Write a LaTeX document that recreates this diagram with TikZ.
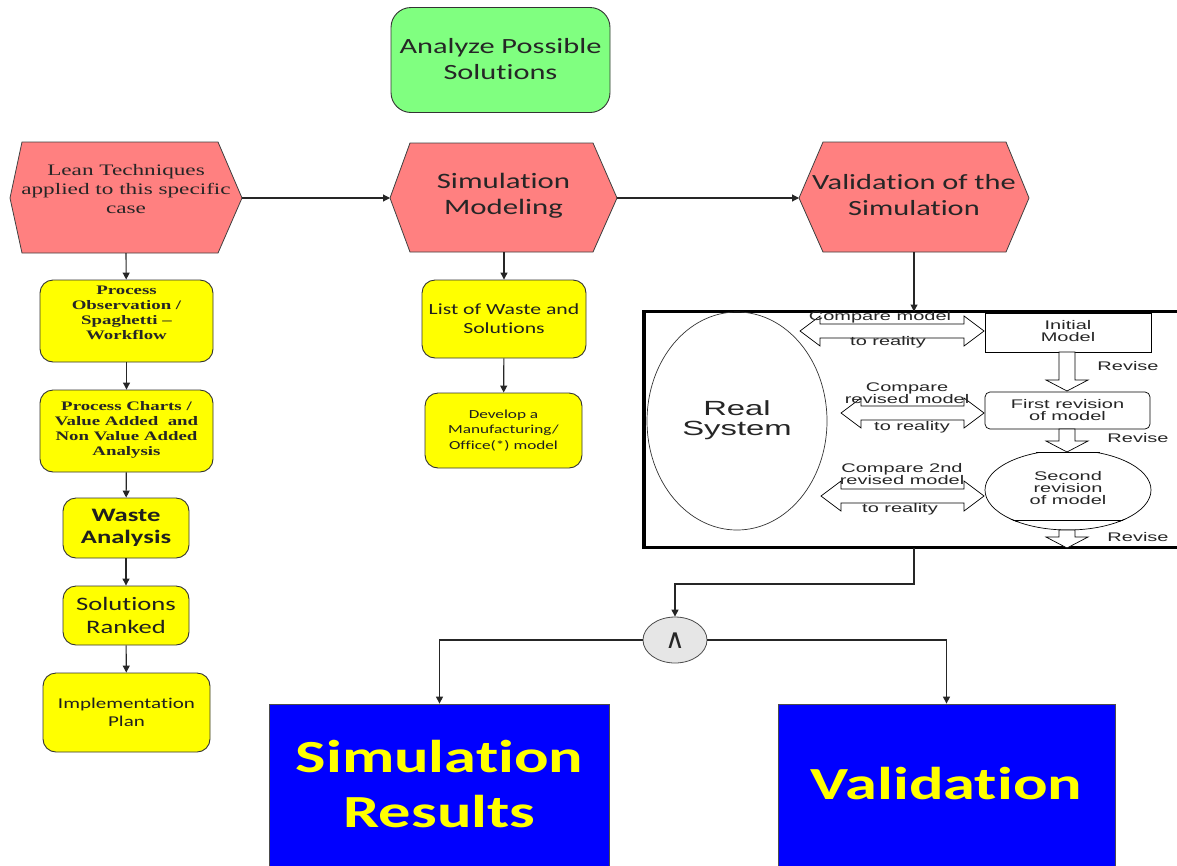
\documentclass[tikz,border=0pt]{standalone}
\usepackage{fontspec}
\setmainfont{Carlito}[FakeStretch=1.4, Ligatures=NoCommon]
\newfontfamily\calib[FakeStretch=1.4, Ligatures=NoCommon]{Carlito}
\newfontfamily\oldser[FakeStretch=1.45]{Liberation Serif}
\newfontfamily\arialw[FakeStretch=1.6]{Liberation Sans}
\newfontfamily\symfont{DejaVu Sans}
\usetikzlibrary{arrows.meta,shapes.geometric}

\definecolor{salmonc}{HTML}{FF8080}
\definecolor{greenc}{HTML}{80FF80}
\definecolor{yellowc}{HTML}{FFFF00}
\definecolor{bluec}{HTML}{0000FF}
\definecolor{andgray}{HTML}{E6E6E6}

% hollow two-headed arrow: left tip x, right tip x, centre y
\newcommand\hollowdbl[3]{%
  \draw[hollow] (#1,#3) -- ({#1+20},{#3-15}) -- ({#1+20},{#3-7}) -- ({#2-20},{#3-7})
    -- ({#2-20},{#3-15}) -- (#2,#3) -- ({#2-20},{#3+15}) -- ({#2-20},{#3+7})
    -- ({#1+20},{#3+7}) -- ({#1+20},{#3+15}) -- cycle;}
% hollow downward arrow: centre x, top y, tip y
\newcommand\hollowdown[3]{%
  \draw[hollow] ({#1-8},#2) -- ({#1+8},#2) -- ({#1+8},{#3-11}) -- ({#1+21},{#3-11})
    -- (#1,#3) -- ({#1-21},{#3-11}) -- ({#1-8},{#3-11}) -- cycle;}

\begin{document}
\begin{tikzpicture}[x=1pt,y=-1pt,
  conn/.style={line width=1.1pt, draw=black!85, -{Triangle[length=7pt,width=7pt]}},
  hexs/.style={draw=black!75, fill=salmonc, line width=0.8pt},
  hextext/.style={align=center, inner sep=0pt, text=black!85},
  ybox/.style={draw=black!80, fill=yellowc, rounded corners=13pt, line width=0.9pt,
    align=center, inner sep=0pt, text=black!88},
  hollow/.style={draw=black, fill=white, line width=0.7pt},
  lbl/.style={font=\arialw\fontsize{12.5}{12}\selectfont, inner sep=0pt, align=center, text=black!85},
  bluebox/.style={draw=black!70, fill=bluec, line width=0.8pt, inner sep=0pt},
  bluetext/.style={font=\calib\bfseries\fontsize{46}{55}\selectfont, text=yellowc, align=center, inner sep=0pt}
]
\useasboundingbox (0,0) rectangle (1177,865);

% top goal
\node[draw=black!80, fill=greenc, rounded corners=20pt, line width=0.9pt,
  minimum width=219, minimum height=105, inner sep=0pt] (goal) at (500.5,60) {};
\node[hextext, font=\calib\fontsize{21.7}{26}\selectfont] at (500.5,59) {Analyze Possible\\Solutions};

% three main hexagons
\draw[hexs] (10,198) -- (22,142) -- (218,142) -- (242,198) -- (218,253) -- (22,253) -- cycle;
\coordinate (lean-w) at (10,198);  \coordinate (lean-e) at (242,198);
\coordinate (lean-s) at (126,253);
\node[hextext, font=\oldser\fontsize{16}{19}\selectfont] (lean) at (126,189)
  {Lean Techniques\\applied to this specific\\case};

\draw[hexs] (390,198) -- (410,143) -- (593,143) -- (617,198) -- (593,252) -- (410,252) -- cycle;
\coordinate (sim-w) at (390,198);  \coordinate (sim-e) at (617,198);
\coordinate (sim-s) at (504,252);
\node[hextext, font=\calib\fontsize{22}{26}\selectfont] (sim) at (503.5,196) {Simulation\\Modeling};

\draw[hexs] (799,198) -- (823,142) -- (1006,142) -- (1029,198) -- (1006,252) -- (823,252) -- cycle;
\coordinate (val-w) at (799,198);  \coordinate (val-e) at (1029,198);
\coordinate (val-s) at (914,252);
\node[hextext, font=\calib\fontsize{21.7}{26}\selectfont] (val) at (914,195) {Validation of the\\Simulation};

\draw[conn] (lean-e) -- (sim-w);
\draw[conn] (sim-e) -- (val-w);

% left column
\node[ybox, minimum width=173, minimum height=82] (obs) at (126.5,321) {};
\node[hextext, font=\oldser\bfseries\fontsize{13}{15}\selectfont] at (126.5,312.5)
  {Process\\Observation /\\Spaghetti –\\Workflow};
\node[ybox, minimum width=173, minimum height=82] (charts) at (126.5,431) {};
\node[hextext, font=\oldser\bfseries\fontsize{13}{15}\selectfont] at (126.5,429.5)
  {Process Charts /\\Value Added \ and\\Non Value Added\\Analysis};
\node[ybox, minimum width=126, minimum height=60, font=\calib\bfseries\fontsize{19}{22}\selectfont]
  (waste) at (126,528) {Waste\\Analysis};
\node[ybox, minimum width=126, minimum height=59, font=\calib\fontsize{19}{23}\selectfont]
  (sol) at (126,615.5) {Solutions\\Ranked};
\node[ybox, minimum width=167, minimum height=79, font=\calib\fontsize{15}{18}\selectfont]
  (impl) at (126.5,712.5) {Implementation\\Plan};

\draw[conn] (lean-s) -- (obs);
\draw[conn] (obs) -- (charts);
\draw[conn] (charts) -- (waste);
\draw[conn] (waste) -- (sol);
\draw[conn] (sol) -- (impl);

% middle column
\node[ybox, minimum width=164, minimum height=78, font=\calib\fontsize{15.5}{19}\selectfont]
  (list) at (504,319) {List of Waste and\\Solutions};
\node[ybox, minimum width=157, minimum height=75, font=\calib\fontsize{12.3}{15.5}\selectfont]
  (dev) at (503.5,430.5) {Develop a\\Manufacturing/\\Office(*) model};
\draw[conn] (sim-s) -- (list);
\draw[conn] (list) -- (dev);

% validation frame
\node[draw=black, line width=3.5pt, minimum width=546, minimum height=236, inner sep=0pt]
  (vfr) at (917,429.5) {};
\coordinate (vfr-n) at (914,311.5);
\coordinate (vfr-s) at (914,547.5);
\draw[conn] (val-s) -- (vfr-n);

% real system
\node[draw=black!80, line width=0.7pt, ellipse, minimum width=180, minimum height=218, inner sep=0pt]
  (real) at (737,421) {};
\node[lbl, font=\arialw\fontsize{20.5}{20}\selectfont] at (737,420) {Real\\System};

% model stages
\node[draw=black, line width=0.7pt, minimum width=166, minimum height=39, inner sep=0pt] (init)
  at (1068,332.5) {};
\node[lbl] at (1068,331) {Initial\\Model};
\node[draw=black, line width=0.7pt, rounded corners=5pt, minimum width=165, minimum height=37,
  inner sep=0pt] (first) at (1067.5,410.5) {};
\node[lbl] at (1067.5,410) {First revision\\of model};
\begin{scope}
  \clip (980,452) rectangle (1160,521);
  \draw[line width=0.7pt] (1068,490) ellipse [x radius=83, y radius=40];
\end{scope}
\begin{scope}
  \clip (980,519) rectangle (1160,540);
  \draw[line width=0.7pt] (1068,490) ellipse [x radius=83, y radius=40];
\end{scope}
\draw[line width=0.7pt] (1036,452) -- (1100,452);
\draw[line width=0.7pt] (1013,520) -- (1123,520);
\node[lbl] (second) at (1068,488) {Second\\revision\\of model};

% revise arrows
\hollowdown{1067}{352}{391}
\hollowdown{1067}{429}{452}
\hollowdown{1067}{530}{548}
\node[lbl] at (1128,366) {Revise};
\node[lbl] at (1138,438) {Revise};
\node[lbl] at (1138,537) {Revise};

% comparison arrows
\hollowdbl{800}{984}{331}
\hollowdbl{841}{984}{413}
\hollowdbl{821}{984}{496}
\node[lbl] at (880,317) {Compare model};
\node[lbl] at (888,342) {to reality};
\node[lbl] at (907,393) {Compare\\revised model};
\node[lbl] at (912,427) {to reality};
\node[lbl] at (902,474) {Compare 2nd\\revised model};
\node[lbl] at (900,509) {to reality};

% AND connector and results
\node[draw=black!70, fill=andgray, line width=0.8pt, ellipse, minimum width=64, minimum height=46,
  inner sep=0pt] (and) at (675,640) {};
\node[font=\symfont\fontsize{27}{27}\selectfont, text=black!85, inner sep=0pt] at (675,641) {∧};
\draw[conn] (vfr-s) -- (914,584) -| (and.north);

\node[bluebox, minimum width=340, minimum height=200] (simres) at (439.5,804) {};
\node[bluetext] at (439.5,784.5) {Simulation\\Results};
\node[bluebox, minimum width=337, minimum height=200] (valres) at (946.5,804) {};
\node[bluetext] at (946.5,784) {Validation};

\draw[conn] (and.west) -| (simres.north);
\draw[conn] (and.east) -| (valres.north);
\end{tikzpicture}
\end{document}
